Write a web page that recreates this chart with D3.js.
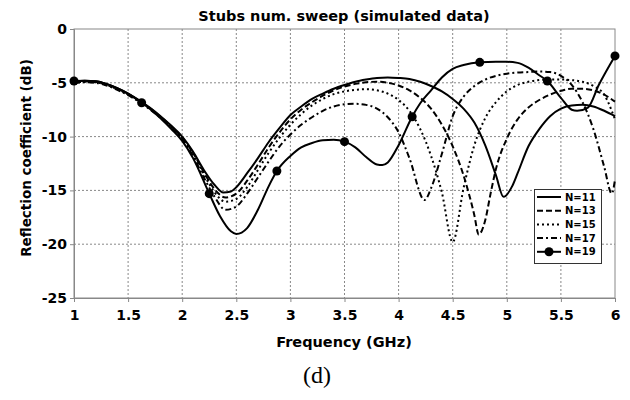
<!DOCTYPE html>
<html>
<head>
<meta charset="utf-8">
<script src="https://cdn.jsdelivr.net/npm/d3@7"></script>
<style>
body{margin:0;background:#fff;}
</style>
</head>
<body>
<script>
// dane: [czestotliwosc GHz, dB]
var n11=[[1,-4.9],[1.1,-4.8],[1.2,-4.85],[1.3,-5.1],[1.4,-5.5],[1.5,-6.0],[1.6,-6.6],[1.7,-7.3],[1.8,-8.1],[1.9,-9.0],[2.0,-10.0],[2.1,-11.4],[2.2,-13.1],[2.3,-14.5],[2.38,-15.2],[2.45,-15.1],[2.5,-14.7],[2.6,-13.4],[2.7,-12.0],[2.8,-10.5],[2.9,-9.2],[3.0,-8.0],[3.1,-7.2],[3.2,-6.5],[3.3,-6.0],[3.4,-5.55],[3.5,-5.2],[3.6,-4.9],[3.7,-4.7],[3.8,-4.55],[3.9,-4.5],[4.0,-4.55],[4.1,-4.65],[4.2,-4.9],[4.3,-5.3],[4.4,-5.8],[4.5,-6.5],[4.6,-7.4],[4.7,-8.7],[4.8,-10.8],[4.9,-13.6],[4.97,-15.6],[5.05,-14.6],[5.1,-13.4],[5.2,-10.9],[5.3,-9.3],[5.4,-8.1],[5.5,-7.4],[5.6,-7.1],[5.7,-7.05],[5.8,-7.2],[5.9,-7.6],[6.0,-8.1]];
var n13=[[1,-4.95],[1.1,-4.85],[1.2,-4.9],[1.3,-5.15],[1.4,-5.55],[1.5,-6.05],[1.6,-6.65],[1.7,-7.35],[1.8,-8.15],[1.9,-9.05],[2.0,-10.1],[2.1,-11.5],[2.2,-13.3],[2.3,-14.9],[2.4,-15.65],[2.5,-15.3],[2.6,-14.1],[2.7,-12.6],[2.8,-11.0],[2.9,-9.6],[3.0,-8.4],[3.1,-7.5],[3.2,-6.8],[3.3,-6.2],[3.4,-5.7],[3.5,-5.35],[3.6,-5.1],[3.7,-4.95],[3.8,-4.9],[3.9,-5.0],[4.0,-5.25],[4.1,-5.7],[4.2,-6.4],[4.3,-7.4],[4.4,-8.9],[4.5,-10.9],[4.6,-13.6],[4.7,-17.3],[4.74,-19.1],[4.8,-17.8],[4.85,-15.3],[4.9,-13.0],[5.0,-10.2],[5.1,-8.4],[5.2,-7.3],[5.3,-6.6],[5.4,-6.1],[5.5,-5.75],[5.6,-5.55],[5.7,-5.55],[5.8,-5.7],[5.9,-6.1],[6.0,-6.75]];
var n15=[[1,-5.0],[1.1,-4.9],[1.2,-4.95],[1.3,-5.2],[1.4,-5.6],[1.5,-6.1],[1.6,-6.7],[1.7,-7.4],[1.8,-8.2],[1.9,-9.1],[2.0,-10.15],[2.1,-11.6],[2.2,-13.5],[2.3,-15.2],[2.4,-16.05],[2.5,-15.8],[2.6,-14.7],[2.7,-13.1],[2.8,-11.5],[2.9,-10.1],[3.0,-8.9],[3.1,-7.9],[3.2,-7.1],[3.3,-6.5],[3.4,-6.05],[3.5,-5.8],[3.6,-5.65],[3.7,-5.6],[3.8,-5.7],[3.9,-6.0],[4.0,-6.6],[4.1,-7.6],[4.2,-9.3],[4.3,-11.8],[4.4,-15.2],[4.5,-19.8],[4.6,-14.8],[4.7,-10.8],[4.8,-8.3],[4.9,-6.8],[5.0,-5.8],[5.1,-5.2],[5.2,-4.9],[5.3,-4.75],[5.4,-4.7],[5.5,-4.7],[5.6,-4.75],[5.7,-4.9],[5.8,-5.3],[5.9,-6.1],[6.0,-8.4]];
var n17=[[1,-5.05],[1.1,-4.95],[1.2,-5.0],[1.3,-5.25],[1.4,-5.65],[1.5,-6.15],[1.6,-6.75],[1.7,-7.45],[1.8,-8.25],[1.9,-9.2],[2.0,-10.25],[2.1,-11.8],[2.2,-13.8],[2.3,-15.6],[2.4,-16.8],[2.5,-16.5],[2.6,-15.3],[2.7,-13.8],[2.8,-12.3],[2.9,-10.9],[3.0,-9.8],[3.1,-8.9],[3.2,-8.2],[3.3,-7.6],[3.4,-7.2],[3.5,-7.0],[3.6,-6.95],[3.7,-7.05],[3.8,-7.4],[3.9,-8.2],[4.0,-9.6],[4.1,-12.0],[4.24,-15.9],[4.3,-14.8],[4.4,-11.6],[4.5,-8.1],[4.6,-6.3],[4.7,-5.3],[4.8,-4.7],[4.9,-4.35],[5.0,-4.15],[5.1,-4.05],[5.2,-4.0],[5.3,-3.95],[5.4,-4.0],[5.5,-4.35],[5.6,-5.2],[5.7,-6.8],[5.8,-9.3],[5.9,-12.8],[5.97,-15.3],[6.0,-14.0]];
var n19=[[1,-4.83],[1.1,-4.8],[1.2,-4.85],[1.3,-5.1],[1.4,-5.5],[1.5,-6.0],[1.625,-6.85],[1.7,-7.4],[1.8,-8.3],[1.9,-9.3],[2.0,-10.4],[2.1,-12.0],[2.25,-15.3],[2.35,-17.4],[2.45,-18.8],[2.5,-19.05],[2.6,-18.5],[2.7,-16.8],[2.8,-14.6],[2.875,-13.2],[3.0,-11.8],[3.1,-11.0],[3.2,-10.6],[3.3,-10.35],[3.4,-10.3],[3.5,-10.47],[3.6,-11.0],[3.7,-11.9],[3.8,-12.6],[3.85,-12.65],[3.9,-12.4],[4.0,-10.8],[4.125,-8.15],[4.2,-6.9],[4.3,-5.7],[4.4,-4.5],[4.5,-3.7],[4.6,-3.35],[4.75,-3.1],[4.9,-3.05],[5.0,-3.05],[5.1,-3.15],[5.2,-3.6],[5.3,-4.3],[5.375,-4.83],[5.5,-6.4],[5.6,-7.5],[5.65,-7.6],[5.75,-7.3],[5.85,-5.2],[6.0,-2.5]];
var n19Markery=[[1,-4.83],[1.625,-6.85],[2.25,-15.3],[2.875,-13.2],[3.5,-10.47],[4.125,-8.15],[4.75,-3.1],[5.375,-4.83],[6.0,-2.5]];
var nazwySerii=["N=11","N=13","N=15","N=17","N=19"];
var tickiX=[1,1.5,2,2.5,3,3.5,4,4.5,5,5.5,6];
var tickiY=[0,-5,-10,-15,-20,-25];

var serie=[n11,n13,n15,n17,n19];
var kreski=[null,"6,3","2,3","6,3,2,3",null];

var font="'DejaVu Sans', Verdana, sans-serif";
var svg=d3.select("body").append("svg")
	.attr("width",630)
	.attr("height",400);

var x=d3.scaleLinear().domain([1,6]).range([74,615]);
var y=d3.scaleLinear().domain([-25,0]).range([298,29]);

//siatka
svg.append("g").selectAll("line").data(tickiX.slice(1,-1)).enter().append("line")
	.attr("x1",function(d){return x(d);})
	.attr("x2",function(d){return x(d);})
	.attr("y1",y(0))
	.attr("y2",y(-25))
	.style("stroke","#888")
	.style("stroke-dasharray","2,2");
svg.append("g").selectAll("line").data(tickiY.slice(1,-1)).enter().append("line")
	.attr("x1",x(1))
	.attr("x2",x(6))
	.attr("y1",function(d){return y(d);})
	.attr("y2",function(d){return y(d);})
	.style("stroke","#888")
	.style("stroke-dasharray","2,2");

//ramka
svg.append("rect")
	.attr("x",x(1)).attr("y",y(0))
	.attr("width",x(6)-x(1)).attr("height",y(-25)-y(0))
	.style("fill","none")
	.style("stroke","#888");

//osie
var osX=svg.append("g").attr("transform","translate(0,"+y(-25)+")")
	.call(d3.axisBottom(x).tickValues(tickiX).tickSize(4).tickPadding(8).tickFormat(function(d){return d;}));
var osY=svg.append("g").attr("transform","translate("+x(1)+",0)")
	.call(d3.axisLeft(y).tickValues(tickiY).tickSize(4).tickPadding(3).tickFormat(function(d){return d;}));
[osX,osY].forEach(function(os){
	os.select(".domain").style("stroke","#888");
	os.selectAll(".tick line").style("stroke","#888");
	os.selectAll(".tick text")
		.style("font-family",font)
		.style("font-weight","bold")
		.style("font-size","14px")
		.style("fill","#000");
});

//linie
var linia=d3.line()
	.x(function(d){return x(d[0]);})
	.y(function(d){return y(d[1]);})
	.curve(d3.curveMonotoneX);
for(var i=0;i<serie.length;i++)
{
	svg.append("path")
		.attr("d",linia(serie[i]))
		.style("fill","none")
		.style("stroke","#000")
		.style("stroke-width",2)
		.style("stroke-dasharray",kreski[i]);
}
svg.append("g").selectAll("circle").data(n19Markery).enter().append("circle")
	.attr("cx",function(d){return x(d[0]);})
	.attr("cy",function(d){return y(d[1]);})
	.attr("r",4.5)
	.style("fill","#000");

//legenda
var leg=svg.append("g");
leg.append("rect")
	.attr("x",534.5).attr("y",189.5)
	.attr("width",67).attr("height",74)
	.style("fill","#fff")
	.style("stroke","#333");
for(var j=0;j<nazwySerii.length;j++)
{
	var ly=197+j*13.7;
	leg.append("line")
		.attr("x1",537).attr("x2",561)
		.attr("y1",ly).attr("y2",ly)
		.style("stroke","#000")
		.style("stroke-width",2)
		.style("stroke-dasharray",kreski[j]);
	if(j==4)
		leg.append("circle").attr("cx",549).attr("cy",ly).attr("r",4.5).style("fill","#000");
	leg.append("text")
		.attr("x",565).attr("y",ly+3.5)
		.text(nazwySerii[j])
		.style("font-family",font)
		.style("font-weight","bold")
		.style("font-size","10px");
}

//opisy
svg.append("text")
	.attr("x",344).attr("y",21)
	.attr("text-anchor","middle")
	.text("Stubs num. sweep (simulated data)")
	.style("font-family",font).style("font-weight","bold").style("font-size","14.5px");
svg.append("text")
	.attr("x",344).attr("y",347)
	.attr("text-anchor","middle")
	.text("Frequency (GHz)")
	.style("font-family",font).style("font-weight","bold").style("font-size","14.5px");
svg.append("text")
	.attr("transform","translate(31,158) rotate(-90)")
	.attr("text-anchor","middle")
	.text("Reflection coefficient (dB)")
	.style("font-family",font).style("font-weight","bold").style("font-size","13.5px");
svg.append("text")
	.attr("x",317).attr("y",383)
	.attr("text-anchor","middle")
	.text("(d)")
	.style("font-family","'Liberation Serif', 'Times New Roman', serif")
	.style("font-size","24px");
</script>
</body>
</html>
